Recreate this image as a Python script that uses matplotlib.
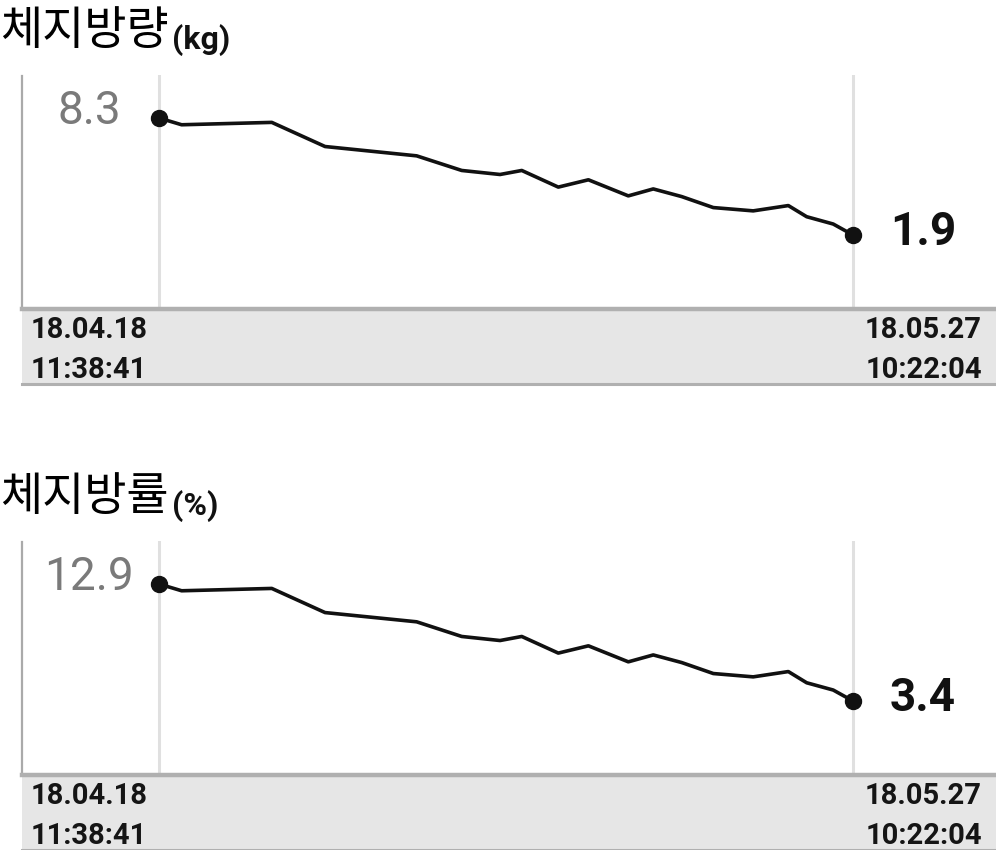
import matplotlib
matplotlib.use("Agg")
import matplotlib.pyplot as plt
from matplotlib.patches import Rectangle
from matplotlib.lines import Line2D

W, H = 996, 850

# days since first measurement (18.04.18 11:38:41)
days = [0, 1.27, 6.33, 9.32, 14.46, 16.99, 19.14, 20.36, 22.41, 24.1,
        26.34, 27.74, 29.34, 31.11, 33.35, 35.32, 36.35, 37.84, 38.95]
fat_kg = [8.3, 7.93, 8.06, 6.74, 6.23, 5.43, 5.21, 5.43, 4.52, 4.92,
          4.04, 4.42, 4.00, 3.40, 3.22, 3.51, 2.90, 2.50, 1.9]
fat_pct = [12.9, 12.35, 12.54, 10.58, 9.83, 8.64, 8.31, 8.64, 7.29, 7.88,
           6.58, 7.14, 6.52, 5.63, 5.36, 5.79, 4.88, 4.29, 3.4]
titles = ["체지방량", "체지방률"]
units = ["(kg)", "(%)"]
start_label = ["18.04.18", "11:38:41"]
end_label = ["18.05.27", "10:22:04"]

fig = plt.figure(figsize=(W / 100, H / 100), dpi=100)


def fx(px):
    return px / W


def fy(py):
    return 1 - py / H


def panel(top, values, title, unit):
    # plot area: x 22..996, y top+75 .. top+308
    y0, y1 = top + 75, top + 308
    ax = fig.add_axes([fx(22), fy(y1), fx(996 - 22), (y1 - y0) / H])
    span = days[-1] - days[0]
    ppd = (853 - 159) / span
    ax.set_xlim(days[0] - (159 - 22) / ppd, days[-1] + (996 - 853) / ppd)
    vmax, vmin = max(values), min(values)
    ppu = (235 - 118) / (vmax - vmin)
    ax.set_ylim(vmin - (y1 - (top + 235)) / ppu, vmax + ((top + 118) - y0) / ppu)
    for s in ax.spines.values():
        s.set_visible(False)
    ax.set_xticks([])
    ax.set_yticks([])
    ax.axvline(days[0], color="#e0e0e0", lw=2.2, zorder=1)
    ax.axvline(days[-1], color="#e0e0e0", lw=2.2, zorder=1)
    ax.plot(days, values, color="#111111", lw=2.6, zorder=3,
            solid_joinstyle="round")
    ax.plot([days[0], days[-1]], [values[0], values[-1]], "o",
            color="#111111", ms=11.5, zorder=4)

    # left border of the plot area
    fig.add_artist(Line2D([fx(22), fx(22)], [fy(top + 76), fy(top + 308)],
                          color="#aaaaaa", lw=1.6))
    # date band
    fig.add_artist(Rectangle((fx(22), fy(top + 384)), fx(996 - 22),
                             (384 - 309) / H, facecolor="#e6e6e6",
                             edgecolor="none"))
    fig.add_artist(Line2D([fx(22), 1], [fy(top + 309), fy(top + 309)],
                          color="#b0b0b0", lw=3.2))
    fig.add_artist(Line2D([fx(22), 1], [fy(top + 384), fy(top + 384)],
                          color="#b0b0b0", lw=2.2))

    kw = dict(fontsize=21, fontweight="bold", family="Roboto", color="#151515")
    fig.text(fx(31), fy(top + 338), start_label[0], **kw)
    fig.text(fx(31), fy(top + 378), start_label[1], **kw)
    fig.text(fx(982), fy(top + 338), end_label[0], ha="right", **kw)
    fig.text(fx(982), fy(top + 378), end_label[1], ha="right", **kw)

    # first / last values
    fig.text(fx(89), fy(top + 124), f"{values[0]:.1f}", fontsize=33,
             ha="center", family="Roboto", color="#7a7a7a")
    fig.text(fx(890), fy(top + 245), f"{values[-1]:.1f}", fontsize=33,
             fontweight="bold", family="Roboto", color="#111111")

    # title
    t = fig.text(fx(0), fy(top + 44), title, fontsize=33, fontweight="medium",
                 family=["Noto Sans CJK KR", "DejaVu Sans"], color="#000000")
    r = fig.canvas.get_renderer()
    bb = t.get_window_extent(r)
    fig.text(bb.x1 / W + fx(3), fy(top + 49), unit, fontsize=23,
             fontweight="bold", family="Roboto", color="#111111")


panel(0, fat_kg, titles[0], units[0])
panel(466, fat_pct, titles[1], units[1])

fig.savefig("out.png", dpi=100, facecolor="white")
